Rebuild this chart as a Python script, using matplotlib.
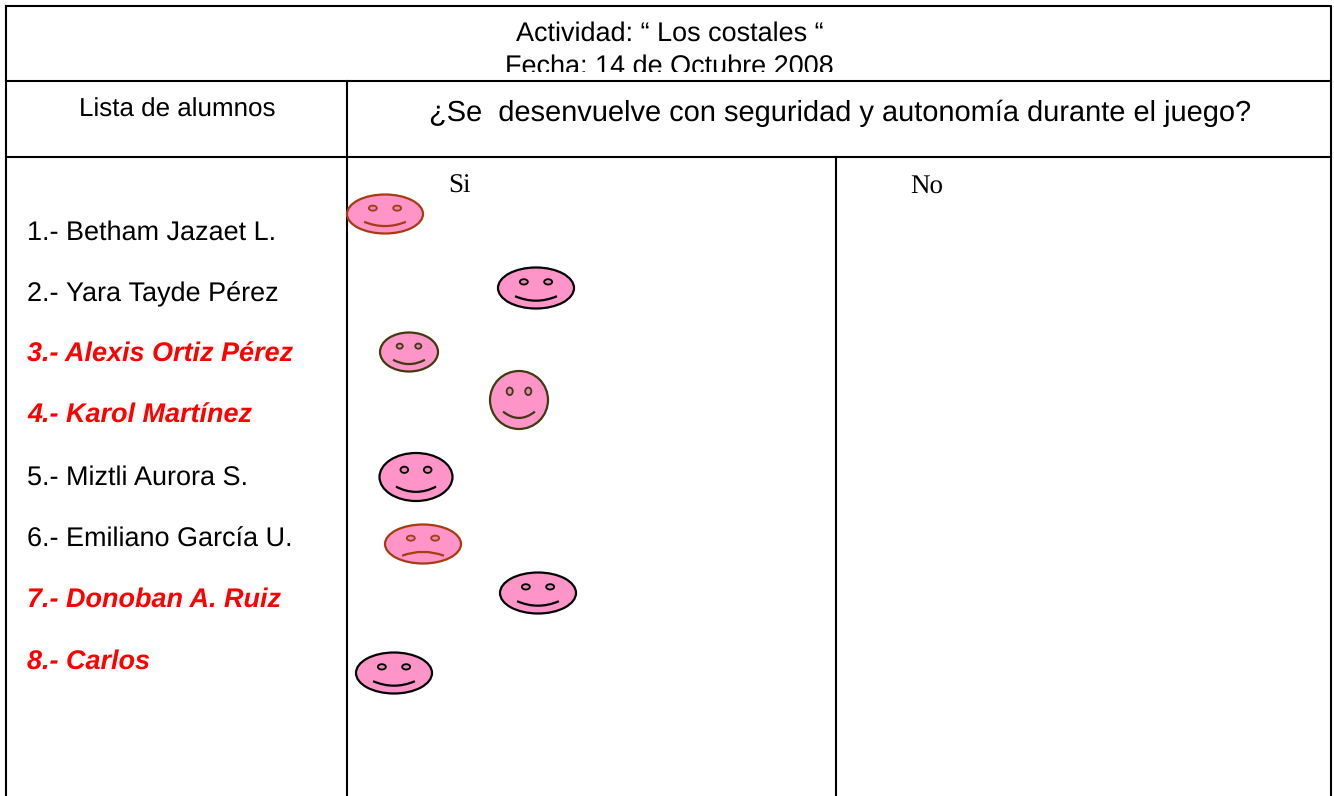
import matplotlib
matplotlib.use('Agg')
import matplotlib.pyplot as plt
from matplotlib.patches import Ellipse, PathPatch
from matplotlib.path import Path

# alumnos, baseline of each row, red ones are the bold italic ones
alumnos = ['1.- Betham Jazaet L.', '2.- Yara Tayde Pérez', '3.- Alexis Ortiz Pérez', '4.- Karol Martínez',
           '5.- Miztli Aurora S.', '6.- Emiliano García U.', '7.- Donoban A. Ruiz', '8.- Carlos']
alumnos_y = [239.5, 301, 362, 423, 485, 546.5, 607, 669]
en_rojo = [False, False, True, True, False, False, True, True]

# caritas: center x, center y, width, height, edge colour, happy or sad
caritas_x = [385, 536, 409, 519, 416, 423, 538, 394]
caritas_y = [214, 288, 352, 400, 477, 544, 593, 673]
caritas_w = [76, 76, 58, 58, 73, 76, 76, 76]
caritas_h = [39, 41, 39, 58, 48, 39, 41, 41]
caritas_color = ['#a63c10', 'black', '#3f3a10', '#3f3a10', 'black', '#a63c10', 'black', 'black']
caritas_feliz = [True, True, True, True, True, False, True, True]

plt.rcParams['font.family'] = 'Liberation Sans'
plt.rcParams['text.hinting'] = 'none'
plt.rcParams['text.hinting_factor'] = 1

fig = plt.figure(figsize=(13.34, 7.96), dpi=100)
ax = fig.add_axes([0, 0, 1, 1])
ax.set_xlim(0, 1334)
ax.set_ylim(796, 0)
ax.axis('off')

# table lines
lw = 1.5
ax.plot([6, 1331, 1331, 6, 6], [5.5, 5.5, 800, 800, 5.5], color='black', lw=lw)
ax.plot([6, 1331], [81, 81], color='black', lw=lw)
ax.plot([6, 1331], [157, 157], color='black', lw=lw)
ax.plot([347, 347], [81, 796], color='black', lw=lw)
ax.plot([836, 836], [157, 796], color='black', lw=lw)

# the date is cut by the cell in the original
ax.text(669.5, 40.5, 'Actividad: “ Los costales “', ha='center', va='baseline', fontsize=19.1)
fecha = ax.text(669, 73.5, 'Fecha: 14 de Octubre 2008', ha='center', va='baseline', fontsize=19.1)
fecha.set_clip_path(plt.Rectangle((0, 0), 1334, 71.5, transform=ax.transData))
fecha.set_clip_on(True)

ax.text(177, 117, 'Lista de alumnos', ha='center', va='baseline', fontsize=18.9)
ax.text(840, 120.5, '¿Se  desenvuelve con seguridad y autonomía durante el juego?', ha='center', va='baseline', fontsize=21.15)
ax.text(459, 193, 'Si', ha='center', va='baseline', fontsize=19.5, family='Liberation Serif')
ax.text(926.5, 193, 'No', ha='center', va='baseline', fontsize=19.5, family='Liberation Serif')

for nombre, y, rojo in zip(alumnos, alumnos_y, en_rojo):
    if rojo:
        ax.text(27, y, nombre, va='baseline', fontsize=19.2, color='red', fontweight='bold', fontstyle='italic')
    else:
        ax.text(27, y, nombre, va='baseline', fontsize=19.1)

for x, y, w, h, c, feliz in zip(caritas_x, caritas_y, caritas_w, caritas_h, caritas_color, caritas_feliz):
    ax.add_patch(Ellipse((x, y), w, h, fc='#ff94c8', ec=c, lw=1.6, zorder=3))
    # eyes
    for ox in (-0.16, 0.16):
        ax.add_patch(Ellipse((x + ox * w, y - 0.15 * h), 0.105 * w, 0.13 * h, fc='#e58ab4', ec=c, lw=1.3, zorder=4))
    # mouth
    if feliz:
        boca = Path([(x - 0.275 * w, y + 0.2 * h), (x, y + 0.42 * h), (x + 0.275 * w, y + 0.2 * h)],
                    [Path.MOVETO, Path.CURVE3, Path.CURVE3])
    else:
        boca = Path([(x - 0.275 * w, y + 0.3 * h), (x, y + 0.1 * h), (x + 0.275 * w, y + 0.3 * h)],
                    [Path.MOVETO, Path.CURVE3, Path.CURVE3])
    ax.add_patch(PathPatch(boca, fc='none', ec=c, lw=1.6, zorder=4))

fig.savefig('out.png', dpi=100)
